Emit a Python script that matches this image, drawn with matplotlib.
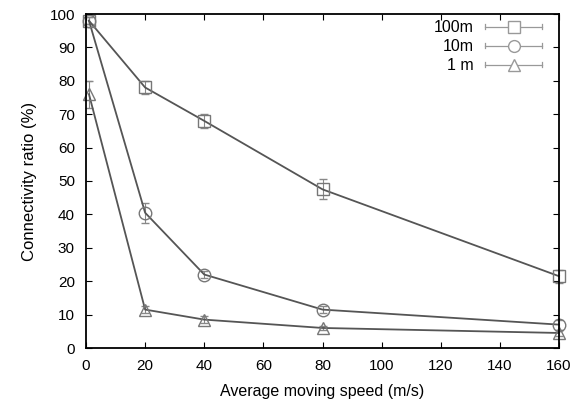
import matplotlib.pyplot as plt
from matplotlib.legend_handler import HandlerBase
from matplotlib.lines import Line2D

plt.rcParams['font.family'] = ['Liberation Sans', 'DejaVu Sans']

speed = [1, 20, 40, 80, 160]
r100 = [98, 78, 68, 47.5, 21.5]
e100 = [1, 2, 2, 3, 2]
r10 = [98, 40.5, 22, 11.5, 7]
e10 = [1, 3, 1, 1, 1.5]
r1 = [76, 11.5, 8.5, 6, 4.5]
e1 = [4, 1, 1, 0.5, 1]


class KeyHandler(HandlerBase):
    # gnuplot-like errorbar key: line with end caps and marker in the middle
    def create_artists(self, legend, orig, xd, yd, w, h, fontsize, trans):
        y = yd + h / 2
        c = '#999999'
        line = Line2D([xd, xd + w], [y, y], color=c, lw=0.9, transform=trans)
        cap1 = Line2D([xd, xd], [y - 2, y + 2], color=c, lw=0.9, transform=trans)
        cap2 = Line2D([xd + w, xd + w], [y - 2, y + 2], color=c, lw=0.9, transform=trans)
        mk = Line2D([xd + w / 2], [y], marker=orig.get_marker(), ms=8.5, mfc='white',
                    mec=c, mew=1, ls='none', transform=trans)
        return [line, cap1, cap2, mk]


fig = plt.figure(figsize=(5.73, 4.07), dpi=100)
ax = fig.add_axes([86/573, 1-348/407, (559-86)/573, (348-14)/407])

col = '#555555'
series = [(r100, e100, 's', '100m'), (r10, e10, 'o', '10m'), (r1, e1, '^', '1 m')]
handles = []
for vals, errs, mk, lab in series:
    ax.errorbar(speed, vals, yerr=errs, color=col, marker=mk, ms=9, mfc='none',
                mec='#777777', mew=1, lw=1.3, ecolor='#888888', elinewidth=0.8,
                capsize=3, clip_on=False)
    handles.append(Line2D([], [], marker=mk, label=lab))

ax.set_xlim(0, 160); ax.set_ylim(0, 100)
ax.set_xticks(range(0, 161, 20)); ax.set_yticks(range(0, 101, 10))
ax.tick_params(direction='in', top=True, right=True, labelsize=11, length=4)
ax.tick_params(axis='x', pad=8)
ax.tick_params(axis='y', pad=8)
ax.set_xlabel('Average moving speed (m/s)', fontsize=11.5, labelpad=8)
ax.set_ylabel('Connectivity ratio (%)', fontsize=12, labelpad=9)
for s in ax.spines.values():
    s.set_linewidth(1.3)
ax.legend(handles=handles, handler_map={Line2D: KeyHandler()}, loc='upper right',
          frameon=False, markerfirst=False, fontsize=11.5, handlelength=3.6,
          handletextpad=0.7, labelspacing=0.25, borderaxespad=0.2,
          bbox_to_anchor=(0.985, 1.01))
fig.savefig('out.png', dpi=100)
